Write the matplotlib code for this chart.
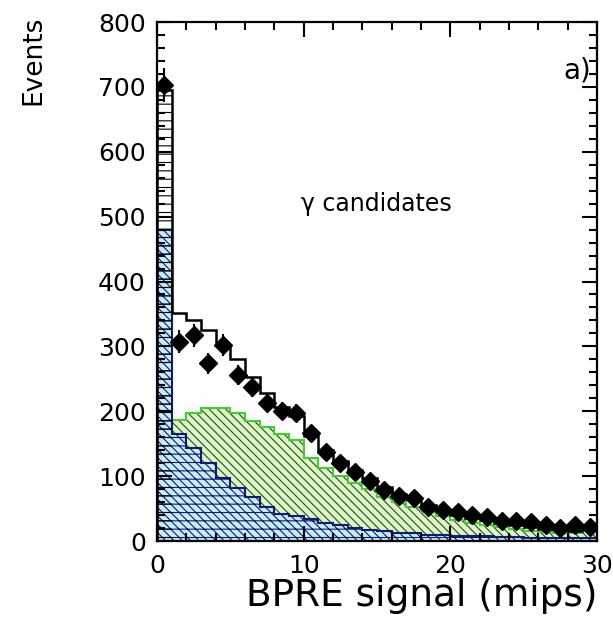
#!/usr/bin/python3
"""Plot BPRE signal distribution for photon candidates"""

import numpy as np
from matplotlib import pyplot as plt

# 1 mip wide bins from 0 to 30
bin_edges = np.arange(0, 31)

# data (events per bin)
events = [703, 307, 317, 274, 302, 256, 237, 213, 200, 197,
          166, 137, 121, 106, 92, 78, 69, 66, 53, 48,
          44, 40, 37, 31, 31, 30, 25, 20, 24, 22]

# MC components
mc_green = [215, 186, 198, 205, 205, 198, 185, 176, 165, 155,
            128, 112, 100, 90, 80, 68, 60, 52, 45, 38,
            32, 28, 25, 22, 19, 16, 14, 13, 12, 16]
mc_blue = [480, 165, 143, 120, 97, 82, 68, 52, 42, 38,
           34, 28, 24, 20, 17, 15, 13, 12, 10, 9,
           8, 8, 7, 6, 6, 5, 5, 5, 4, 4]

x_ticks = [0, 10, 20, 30]
y_ticks = [0, 100, 200, 300, 400, 500, 600, 700, 800]


def hatched_stairs(ax, values, face, hatch, hatch_color, line_color, lw):
    """Filled step histogram with hatching and outline"""
    ax.stairs(values, bin_edges, fill=True, color=face, linewidth=0)
    ax.stairs(values, bin_edges, fill=True, facecolor='none',
              edgecolor=hatch_color, hatch=hatch, linewidth=0)
    ax.stairs(values, bin_edges, color=line_color, linewidth=lw)


def plot():
    """Draw the histogram and save to a file"""
    plt.rcParams['font.family'] = ['DejaVu Sans']
    plt.rcParams['hatch.linewidth'] = 0.8

    fig = plt.figure(figsize=(6.13, 6.31), dpi=100)
    ax = fig.add_axes([0.256, 0.1426, 0.718, 0.8225])

    green = np.array(mc_green)
    blue = np.array(mc_blue)
    total = green + blue

    # green component
    hatched_stairs(ax, green, '#dcf6c6', '\\\\\\\\', '#2a4a20', '#44cc33', 1.5)
    # blue component
    hatched_stairs(ax, blue, '#c6eef2', '\\\\\\\\--', '#101a70', '#101a70', 1.5)
    # total MC
    ax.stairs(total, bin_edges, color='black', linewidth=1.8)
    ax.bar(bin_edges[0], total[0], width=1, align='edge', fill=False,
           hatch='--', edgecolor='black', linewidth=0)

    # data points
    centers = bin_edges[:-1] + 0.5
    ax.errorbar(centers, events, yerr=np.sqrt(events), fmt='D', color='black',
                markersize=9, elinewidth=1.5, capsize=0)

    ax.set_xlim(0, 30)
    ax.set_ylim(0, 800)
    ax.set_xticks(x_ticks)
    ax.set_yticks(y_ticks)
    ax.set_xticks(np.arange(0, 31, 2), minor=True)
    ax.set_yticks(np.arange(0, 801, 20), minor=True)
    ax.tick_params(which='both', direction='in', top=True, right=True,
                   width=1.5, labelsize=18)
    ax.tick_params(axis='x', pad=9)
    ax.tick_params(axis='y', pad=8)
    ax.tick_params(which='major', length=11)
    ax.tick_params(which='minor', length=6)
    for spine in ax.spines.values():
        spine.set_linewidth(1.6)

    ax.set_xlabel('BPRE signal (mips)', fontsize=27, loc='right', labelpad=0)
    ax.set_ylabel('Events', fontsize=19, loc='top')
    ax.yaxis.set_label_coords(-0.252, 1.012)

    ax.text(9.8, 520, '\u03b3 candidates', fontsize=17, va='center')
    ax.text(29.6, 725, 'a)', fontsize=20, ha='right', va='center')

    plt.savefig('out.png', dpi=100)


if __name__ == '__main__':
    plot()
